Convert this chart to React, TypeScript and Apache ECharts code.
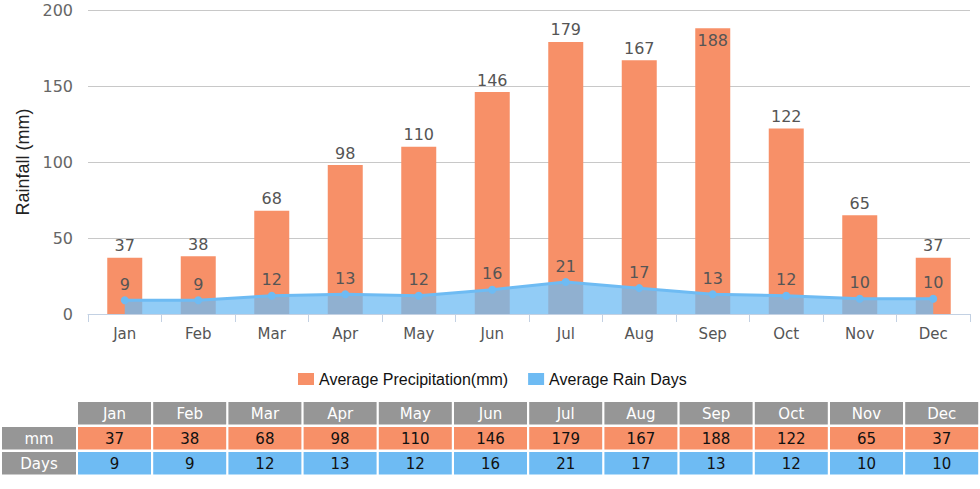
import React, { useEffect, useRef } from "react";
import * as echarts from "echarts";

const months = ["Jan", "Feb", "Mar", "Apr", "May", "Jun", "Jul", "Aug", "Sep", "Oct", "Nov", "Dec"];
const precipitation = [37, 38, 68, 98, 110, 146, 179, 167, 188, 122, 65, 37];
const rainDays = [9, 9, 12, 13, 12, 16, 21, 17, 13, 12, 10, 10];
const rowLabels = ["mm", "Days"];

const ORANGE = "#F79068";
const BLUE = "#6EBBF3";
const GRAY = "#969696";
const FONT = "DejaVu Sans, Verdana, sans-serif";
const SANS = "Liberation Sans, Arial, sans-serif";

function buildTable() {
  const els: any[] = [];
  const colX0 = 78;
  const pitch = 75.2;
  const cellW = 73;
  const rowY = [402, 427, 452];
  const rowH = 22.5;
  const cell = (x: number, y: number, w: number, fill: string, text: string, color: string) => {
    els.push({ type: "rect", shape: { x, y, width: w, height: rowH }, style: { fill }, silent: true });
    els.push({
      type: "text",
      x: x + w / 2,
      y: y + rowH / 2 + 0.5,
      style: { text, fill: color, font: `15px ${FONT}`, align: "center", verticalAlign: "middle" },
      silent: true,
    });
  };
  months.forEach((m, i) => cell(colX0 + i * pitch, rowY[0], cellW, GRAY, m, "#fff"));
  cell(2, rowY[1], 74, GRAY, rowLabels[0], "#fff");
  cell(2, rowY[2], 74, GRAY, rowLabels[1], "#fff");
  precipitation.forEach((v, i) => cell(colX0 + i * pitch, rowY[1], cellW, ORANGE, String(v), "#111"));
  rainDays.forEach((v, i) => cell(colX0 + i * pitch, rowY[2], cellW, BLUE, String(v), "#111"));
  return els;
}

export default function App() {
  const ref = useRef<HTMLDivElement>(null);
  useEffect(() => {
    if (!ref.current) return;
    const chart = echarts.init(ref.current, undefined, { renderer: "svg" });
    chart.setOption({
      animation: false,
      grid: { left: 88, right: 10, top: 10, bottom: 175, containLabel: false },
      legend: {
        top: 366,
        left: 293,
        icon: "rect",
        itemWidth: 16,
        itemHeight: 12,
        itemGap: 20,
        textStyle: { fontSize: 16, fontFamily: SANS, color: "#111" },
        data: ["Average Precipitation(mm)", "Average Rain Days"],
      },
      xAxis: {
        type: "category",
        data: months,
        boundaryGap: true,
        axisLine: { lineStyle: { color: "#C3D1E3", width: 1 } },
        axisTick: { show: true, length: 8, lineStyle: { color: "#C3D1E3" } },
        axisLabel: { color: "#555", fontSize: 15, fontFamily: FONT, margin: 12 },
      },
      yAxis: {
        type: "value",
        min: 0,
        max: 200,
        interval: 50,
        name: "Rainfall (mm)",
        nameLocation: "middle",
        nameGap: 55,
        nameTextStyle: { fontSize: 18, fontWeight: "normal", color: "#222", fontFamily: SANS },
        axisLine: { show: false },
        axisTick: { show: false },
        axisLabel: { color: "#666", fontSize: 16, fontFamily: FONT, margin: 15 },
        splitLine: { lineStyle: { color: "#C8C8C8" } },
      },
      series: [
        {
          name: "Average Precipitation(mm)",
          type: "bar",
          barWidth: 35,
          data: precipitation.map((v) =>
            v > 180 ? { value: v, label: { position: "insideTop", distance: 4 } } : v
          ),
          itemStyle: { color: ORANGE },
          label: { show: true, position: "top", color: "#555", fontSize: 16, fontFamily: FONT, distance: 4 },
        },
        {
          name: "Average Rain Days",
          type: "line",
          data: rainDays,
          symbol: "circle",
          symbolSize: 8,
          lineStyle: { color: BLUE, width: 3 },
          itemStyle: { color: BLUE },
          areaStyle: { color: BLUE, opacity: 0.75 },
          label: { show: true, position: "top", color: "#555", fontSize: 16, fontFamily: FONT, distance: 4 },
        },
      ],
      graphic: buildTable(),
    });
    return () => chart.dispose();
  }, []);
  return <div ref={ref} style={{ position: "fixed", left: 0, top: 0, width: 980, height: 489, background: "#fff" }} />;
}
